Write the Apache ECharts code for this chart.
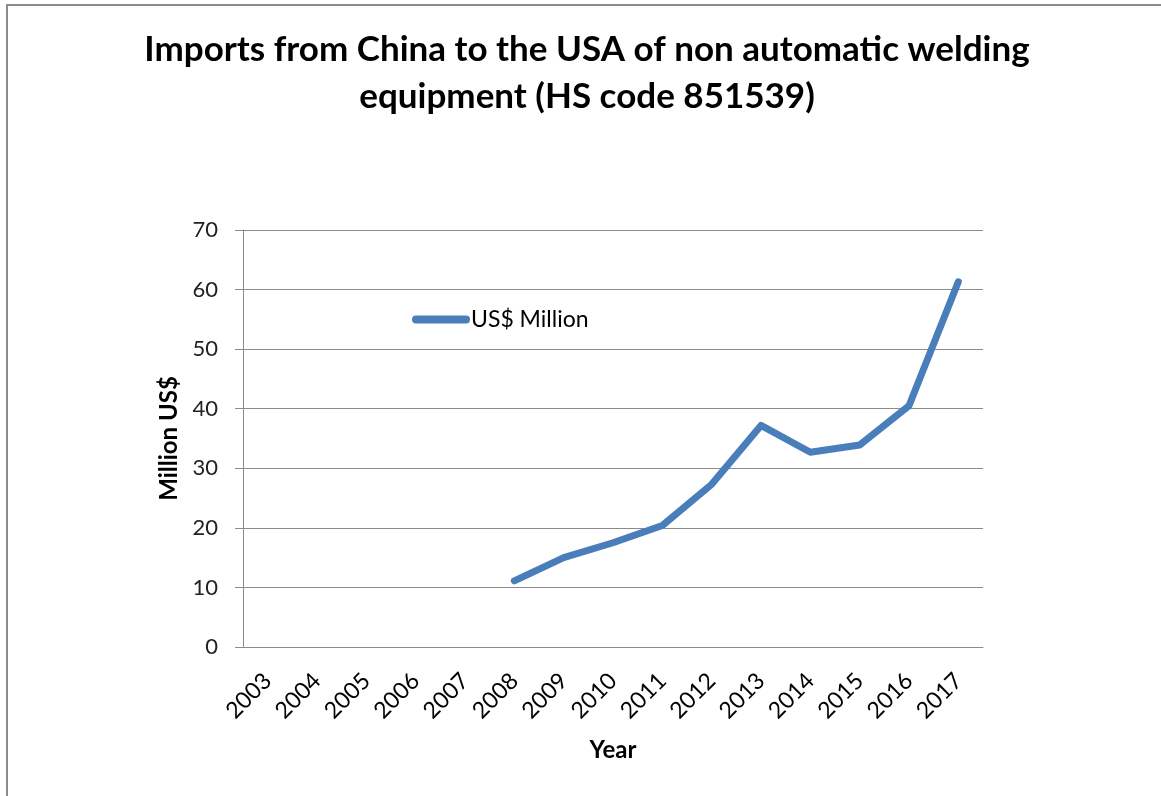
<!DOCTYPE html>
<html>
<head>
<meta charset="utf-8">
<script src="https://cdn.jsdelivr.net/npm/echarts@6/dist/echarts.min.js"></script>
<style>
  html, body { margin: 0; padding: 0; background: #fff; }
  .frame {
    position: absolute;
    left: 6px;
    top: 4px;
    width: 1155px;
    height: 792px;
    border-top: 2px solid #8c8c8c;
    border-left: 2px solid #8c8c8c;
  }
  #chart { position: absolute; left: 0; top: 0; width: 1161px; height: 796px; }
</style>
</head>
<body>
<div class="frame"></div>
<div id="chart"></div>
<script>
// 年份
const years = ['2003', '2004', '2005', '2006', '2007', '2008', '2009', '2010',
  '2011', '2012', '2013', '2014', '2015', '2016', '2017']
// US$ Million (no data before 2008)
const importValues = [null, null, null, null, null, 11.1, 15.0, 17.5,
  20.4, 27.3, 37.2, 32.7, 33.9, 40.5, 61.3]

const font = 'Lato, "Open Sans", sans-serif'
const gridColor = '#8c8c8c'

let myChart = echarts.init(document.getElementById('chart'))
let option = {
  backgroundColor: 'transparent',
  title: {
    text: 'Imports from China to the USA of non automatic welding\nequipment (HS code 851539)',
    left: 587,
    textAlign: 'center',
    top: 26,
    padding: 0,
    textStyle: {
      fontFamily: font,
      fontWeight: 'bold',
      fontSize: 35,
      lineHeight: 47,
      color: '#000'
    }
  },
  legend: {
    left: 407,
    top: 303,
    itemWidth: 58,
    itemHeight: 8,
    itemGap: 0,
    icon: 'path://M4,0 L54,0 A4,4 0 0 1 54,8 L4,8 A4,4 0 0 1 4,0 Z',
    textStyle: { fontFamily: font, fontSize: 23, color: '#000', padding: [0, 0, 0, -4] },
    data: ['US$ Million']
  },
  grid: {
    left: 243,
    right: 178,
    top: 230,
    bottom: 149
  },
  xAxis: {
    type: 'category',
    data: years,
    boundaryGap: true,
    name: 'Year',
    nameLocation: 'middle',
    nameGap: 91,
    nameTextStyle: { fontFamily: font, fontWeight: 'bold', fontSize: 24, color: '#000' },
    axisLine: { lineStyle: { color: gridColor, width: 1 } },
    axisTick: { length: 8, lineStyle: { color: gridColor } },
    axisLabel: {
      interval: 0,
      rotate: 45,
      margin: 30,
      fontFamily: font,
      fontSize: 23,
      color: '#000'
    }
  },
  yAxis: {
    type: 'value',
    min: 0,
    max: 70,
    interval: 10,
    name: 'Million US$',
    nameLocation: 'middle',
    nameGap: 59,
    nameRotate: 90,
    nameTextStyle: { fontFamily: font, fontWeight: 'bold', fontSize: 24, color: '#000' },
    axisLine: { show: true, lineStyle: { color: gridColor, width: 1 } },
    axisTick: { show: true, length: 8, lineStyle: { color: gridColor } },
    splitLine: { lineStyle: { color: gridColor, width: 1 } },
    axisLabel: {
      margin: 25,
      fontFamily: font,
      fontSize: 22,
      color: '#222'
    }
  },
  series: [
    {
      name: 'US$ Million',
      type: 'line',
      data: importValues,
      showSymbol: false,
      symbol: 'none',
      color: '#4a7ebb',
      lineStyle: { width: 7, color: '#4a7ebb', cap: 'round', join: 'round' }
    }
  ]
}
myChart.setOption(option)
</script>
</body>
</html>
